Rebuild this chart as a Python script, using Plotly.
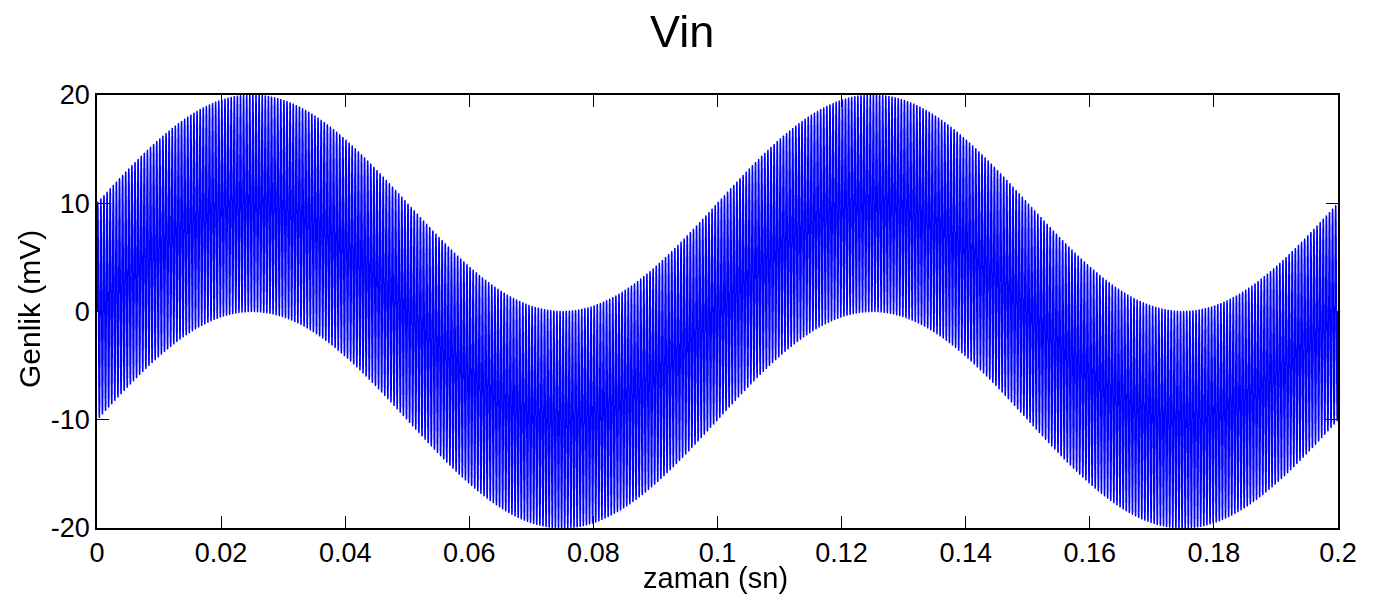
import numpy as np
import plotly.graph_objects as go

# Signal: slow envelope + fast carrier (mV, Hz)
component_amps_mv = [10.0, 10.0]
component_freqs_hz = [10.0, 2000.0]
t_start, t_end = 0.0, 0.2
sample_rate_hz = 80000.0

x_ticks = [0, 0.02, 0.04, 0.06, 0.08, 0.1, 0.12, 0.14, 0.16, 0.18, 0.2]
x_tick_labels = ["0", "0.02", "0.04", "0.06", "0.08", "0.1", "0.12", "0.14", "0.16", "0.18", "0.2"]
y_ticks = [-20, -10, 0, 10, 20]
y_tick_labels = ["-20", "-10", "0", "10", "20"]

t = np.arange(t_start, t_end + 0.5 / sample_rate_hz, 1.0 / sample_rate_hz)
vin = np.zeros_like(t)
for a, f in zip(component_amps_mv, component_freqs_hz):
    vin += a * np.sin(2 * np.pi * f * t)

font_family = "Liberation Sans, Arial, sans-serif"

OFF = 8  # page body margin
W, H = 1372, 591
L, R, T, B = 97 - OFF, 42, 95 - OFF, 71
plot_h = H - T - B
plot_w = W - L - R


def py(p):
    return (H - B - (p - OFF)) / plot_h


def px(p):
    return ((p - OFF) - L) / plot_w


fig = go.Figure(go.Scattergl(x=t, y=vin, mode="lines",
                             line=dict(color="#0000FF", width=1.5),
                             showlegend=False, hoverinfo="skip"))

axis_common = dict(showline=True, linecolor="black", linewidth=1.5, mirror="ticks",
                   ticks="inside", ticklen=12, tickwidth=1.2, tickcolor="black",
                   showgrid=False, zeroline=False, automargin=False,
                   tickfont=dict(family=font_family, size=27, color="black"))

fig.update_layout(
    width=W, height=H,
    paper_bgcolor="white", plot_bgcolor="white",
    margin=dict(l=L, r=R, t=T, b=B),
    xaxis=dict(range=[t_start, t_end], tickvals=x_ticks, ticktext=x_tick_labels,
               **axis_common),
    yaxis=dict(range=[-20, 20], tickvals=y_ticks, ticktext=y_tick_labels,
               **axis_common),
    annotations=[
        dict(text="Vin", xref="paper", yref="paper", x=px(682), y=py(31),
             xanchor="center", yanchor="middle", showarrow=False,
             font=dict(family=font_family, size=45, color="black")),
        dict(text="zaman (sn)", xref="paper", yref="paper", x=px(715), y=py(578),
             xanchor="center", yanchor="middle", showarrow=False,
             font=dict(family=font_family, size=29, color="black")),
        dict(text="Genlik (mV)", xref="paper", yref="paper", x=px(29), y=py(309),
             xanchor="center", yanchor="middle", showarrow=False, textangle=-90,
             font=dict(family=font_family, size=30, color="black")),
    ],
)

fig.write_html("out.html")
